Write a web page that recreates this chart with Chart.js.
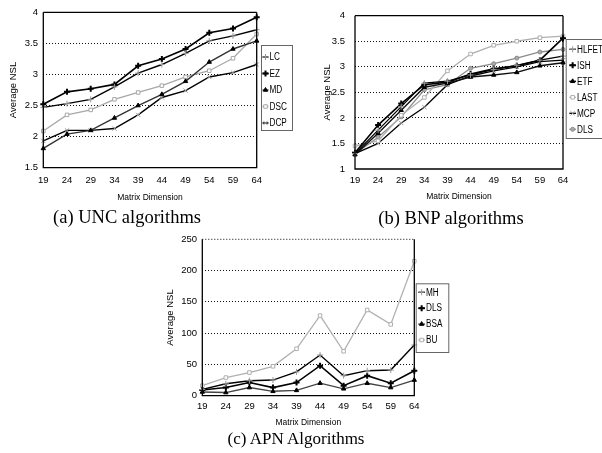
<!DOCTYPE html>
<html>
<head>
<meta charset="utf-8">
<script src="https://cdn.jsdelivr.net/npm/chart.js@4.4.0/dist/chart.umd.min.js"></script>
<style>
  body { margin: 0; background: #fff; width: 602px; height: 453px; position: relative; overflow: hidden; }
  canvas { position: absolute; }
  .cap { position: absolute; font-family: 'Liberation Serif', 'Times New Roman', serif; color: #000;
         white-space: nowrap; transform: translate(-50%, -50%); line-height: 1; }
</style>
</head>
<body>
<canvas id="uncChart" width="300" height="208" style="left:0;top:0"></canvas>
<canvas id="bnpChart" width="302" height="208" style="left:300px;top:0"></canvas>
<canvas id="apnChart" width="302" height="204" style="left:150px;top:228px"></canvas>
<div class="cap" style="left:127px;top:217px;font-size:18.5px">(a) UNC algorithms</div>
<div class="cap" style="left:451px;top:218px;font-size:18.5px">(b) BNP algorithms</div>
<div class="cap" style="left:296px;top:438px;font-size:17px">(c) APN Algorithms</div>
<script>
// matrix sizes on the x axis
const dims = ['19', '24', '29', '34', '39', '44', '49', '54', '59', '64'];

// y tick labels
const uncTicks = [1.5, 2, 2.5, 3, 3.5, 4];
const bnpTicks = [1, 1.5, 2, 2.5, 3, 3.5, 4];
const apnTicks = [0, 50, 100, 150, 200, 250];

// (a) UNC
const lcVals  = [2.47, 2.53, 2.6, 2.8, 3.02, 3.16, 3.34, 3.54, 3.62, 3.72];
const ezVals  = [2.52, 2.72, 2.77, 2.84, 3.14, 3.25, 3.41, 3.67, 3.74, 3.92];
const mdVals  = [1.81, 2.04, 2.1, 2.3, 2.5, 2.68, 2.89, 3.2, 3.41, 3.54];
const dscVals = [2.09, 2.35, 2.43, 2.6, 2.71, 2.82, 2.96, 3.06, 3.26, 3.65];
const dcpVals = [1.93, 2.1, 2.1, 2.13, 2.35, 2.63, 2.74, 2.96, 3.03, 3.16];

// (b) BNP
const hlfetVals = [1.3, 1.76, 2.22, 2.68, 2.72, 2.84, 2.95, 3.03, 3.13, 3.21];
const ishVals   = [1.32, 1.86, 2.28, 2.65, 2.7, 2.86, 2.96, 3.02, 3.13, 3.56];
const etfVals   = [1.28, 1.7, 2.15, 2.6, 2.68, 2.8, 2.84, 2.89, 3.02, 3.08];
const lastVals  = [1.45, 1.55, 2.05, 2.4, 2.92, 3.25, 3.42, 3.5, 3.57, 3.6];
const mcpVals   = [1.3, 1.5, 1.9, 2.21, 2.65, 2.82, 2.92, 3.0, 3.1, 3.13];
const bnpDlsVals = [1.3, 1.62, 2.02, 2.55, 2.65, 2.97, 3.06, 3.17, 3.29, 3.34];

// (c) APN
const mhVals  = [10, 19, 24, 25, 38, 65, 32, 40, 41, 81];
const apnDlsVals = [9, 13, 21, 13, 21, 48, 16, 32, 20, 40];
const bsaVals = [6, 5, 13, 7, 8.5, 20, 11, 20, 13, 25];
const buVals  = [16, 29, 37, 47, 75, 128, 71, 137, 114, 215];

const sans = "'Liberation Sans', Arial, sans-serif";

function series(label, data, color, width, style, radius, ptFill, ptBorder, ptWidth) {
    return {
        label: label, data: data,
        borderColor: color, borderWidth: width,
        pointStyle: style, pointRadius: radius,
        pointBackgroundColor: ptFill, pointBorderColor: ptBorder, pointBorderWidth: ptWidth,
        tension: 0, fill: false
    };
}

// box frame round the plot + the boxed legend on the right
const frameLegend = {
    id: 'frameLegend',
    afterDatasetsDraw(chart, args, opts) {
        const ctx = chart.ctx;
        const a = chart.chartArea;
        ctx.save();
        ctx.strokeStyle = '#000';
        ctx.lineWidth = 1.3;
        ctx.setLineDash([]);
        ctx.beginPath();
        ctx.moveTo(a.left, a.top);
        ctx.lineTo(a.left, a.bottom);
        ctx.lineTo(a.right, a.bottom);
        ctx.lineTo(a.right, a.top);
        ctx.stroke();
        if (opts.topDotted) { ctx.setLineDash([1, 2]); ctx.lineWidth = 1; }
        ctx.beginPath();
        ctx.moveTo(a.left, a.top);
        ctx.lineTo(a.right, a.top);
        ctx.stroke();

        const b = opts.box;
        ctx.setLineDash([]);
        ctx.lineWidth = 1;
        ctx.strokeStyle = '#666';
        ctx.strokeRect(b.x + 0.5, b.y + 0.5, b.w, b.h);

        ctx.font = '10px ' + sans;
        ctx.textBaseline = 'middle';
        ctx.textAlign = 'left';
        chart.data.datasets.forEach((ds, i) => {
            const y = b.first + i * b.step;
            ctx.strokeStyle = ds.borderColor;
            ctx.lineWidth = ds.borderWidth;
            ctx.beginPath();
            ctx.moveTo(b.lx0, y);
            ctx.lineTo(b.lx1, y);
            ctx.stroke();
            ctx.fillStyle = ds.pointBackgroundColor;
            ctx.strokeStyle = ds.pointBorderColor;
            ctx.lineWidth = ds.pointBorderWidth;
            Chart.helpers.drawPoint(ctx, {
                pointStyle: ds.pointStyle, radius: ds.pointRadius,
                borderWidth: ds.pointBorderWidth, rotation: 0
            }, (b.lx0 + b.lx1) / 2, y);
            // squeeze the text a bit, the original legend uses a narrow face
            ctx.save();
            ctx.translate(b.tx, y + 0.5);
            ctx.scale(0.82, 1);
            ctx.fillStyle = '#000';
            ctx.fillText(ds.label, 0, 0);
            ctx.restore();
        });
        ctx.restore();
    }
};

function makeChart(id, sets, ticks, lay) {
    const lo = ticks[0];
    const hi = ticks[ticks.length - 1];
    return new Chart(document.getElementById(id), {
        type: 'line',
        data: { labels: dims, datasets: sets },
        options: {
            responsive: false,
            animation: false,
            layout: { padding: lay.pad },
            plugins: {
                legend: { display: false },
                tooltip: { enabled: false },
                frameLegend: lay.legend
            },
            scales: {
                x: {
                    offset: false,
                    grid: { display: false, drawTicks: false },
                    border: { display: false },
                    ticks: { color: '#000', font: { family: sans, size: 9.5 }, padding: lay.xPad + 0.3,
                             maxRotation: 0, autoSkip: false },
                    title: { display: true, text: 'Matrix Dimension', color: '#000',
                             font: { family: sans, size: 8.5 }, padding: { top: 0, bottom: 2.9 } },
                    afterFit: s => { s.height = lay.xH; }
                },
                y: {
                    min: lo, max: hi,
                    ticks: { stepSize: ticks[1] - ticks[0], color: '#000',
                             font: { family: sans, size: 9.5 }, padding: lay.yPad,
                             callback: v => String(v) },
                    grid: {
                        drawTicks: false, lineWidth: 1,
                        color: c => (c.tick && (c.tick.value === lo || c.tick.value === hi)) ? 'rgba(0,0,0,0)' : '#111'
                    },
                    border: { display: false, dash: [1, 2] },
                    title: { display: true, text: 'Average NSL', color: '#000',
                             font: { family: sans, size: 9.5 }, padding: { top: 4.3, bottom: 0 } },
                    afterFit: s => { s.width = lay.yW; }
                }
            }
        },
        plugins: [frameLegend]
    });
}

document.addEventListener('DOMContentLoaded', function () {

    makeChart('uncChart', [
        series('LC', lcVals, '#000', 1.4, 'cross', 3, '#999', '#999', 1),
        series('EZ', ezVals, '#000', 1.6, 'cross', 3, '#000', '#000', 2),
        series('MD', mdVals, '#333', 1.4, 'triangle', 2.5, '#000', '#000', 1),
        series('DSC', dscVals, '#a8a8a8', 1.3, 'rect', 2.5, '#fff', '#a8a8a8', 1),
        series('DCP', dcpVals, '#000', 1.4, 'crossRot', 3, '#999', '#999', 1)
    ], uncTicks, {
        pad: { left: 3, right: 43.3, top: 12.3, bottom: 2 },
        yW: 40.3, yPad: 5.3, xH: 38.3, xPad: 6.3,
        legend: { box: { x: 261, y: 45, w: 31, h: 85, first: 57, step: 16.5, lx0: 262.5, lx1: 268.5, tx: 269.5 } }
    });

    makeChart('bnpChart', [
        series('HLFET', hlfetVals, '#000', 1.3, 'cross', 3, '#999', '#999', 1),
        series('ISH', ishVals, '#000', 1.6, 'cross', 3, '#000', '#000', 2),
        series('ETF', etfVals, '#111', 1.4, 'triangle', 2.5, '#000', '#000', 1),
        series('LAST', lastVals, '#b0b0b0', 1.3, 'rect', 2.5, '#fff', '#b0b0b0', 1),
        series('MCP', mcpVals, '#000', 1.3, 'crossRot', 3, '#999', '#999', 1),
        series('DLS', bnpDlsVals, '#8a8a8a', 1.3, 'circle', 2, '#aaa', '#8a8a8a', 1)
    ], bnpTicks, {
        pad: { left: 17, right: 39, top: 11.7, bottom: 3.3 },
        yW: 38, yPad: 10, xH: 35.7, xPad: 5,
        legend: { box: { x: 265.7, y: 39, w: 40, h: 99, first: 49.3, step: 16, lx0: 269.3, lx1: 276, tx: 277 } }
    });

    makeChart('apnChart', [
        series('MH', mhVals, '#000', 1.4, 'cross', 3, '#999', '#999', 1),
        series('DLS', apnDlsVals, '#000', 1.6, 'cross', 3, '#000', '#000', 2),
        series('BSA', bsaVals, '#444', 1.4, 'triangle', 2.5, '#000', '#000', 1),
        series('BU', buVals, '#b0b0b0', 1.3, 'rect', 2.5, '#fff', '#b0b0b0', 1)
    ], apnTicks, {
        pad: { left: 10.7, right: 37.7, top: 11.3, bottom: 1.3 },
        yW: 41.6, yPad: 5.3, xH: 35, xPad: 5,
        legend: { topDotted: true, box: { x: 265.7, y: 55.3, w: 32.6, h: 68.7, first: 64.3, step: 15.9, lx0: 268.3, lx1: 275, tx: 276 } }
    });
});
</script>
</body>
</html>
